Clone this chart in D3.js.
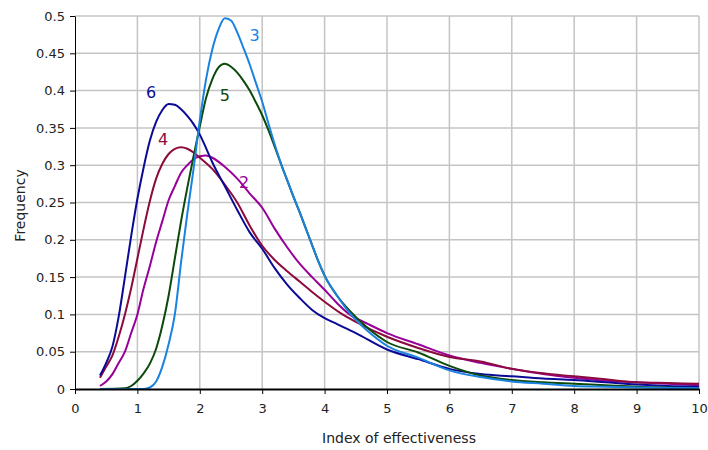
<html>
<head>
<title>Index of effectiveness</title>
<style>
body {
  margin: 0;
  background: #fff;
}
svg text {
  font-family: 'DejaVu Sans', sans-serif;
  fill: #222;
}
.grid line {
  stroke: #c4c4c4;
  stroke-width: 1.5;
}
.axis path, .axis line {
  stroke: #000;
}
.curve {
  fill: none;
  stroke-width: 2;
}
</style>
</head>
<body>
<svg id='plot' width='708' height='450'></svg>

<script src='https://cdn.jsdelivr.net/npm/d3@7'></script>
<script>
// Tick values of both axes.
const xTicks = [0, 1, 2, 3, 4, 5, 6, 7, 8, 9, 10];
const yTicks = [0, 0.05, 0.1, 0.15, 0.2, 0.25, 0.3, 0.35, 0.4, 0.45, 0.5];

// Frequency curves, [index, frequency].
const curve2 = [[0.4, 0.004], [0.5, 0.01], [0.6, 0.02], [0.7, 0.035], [0.8, 0.05],
  [0.9, 0.075], [1.0, 0.1], [1.1, 0.135], [1.2, 0.165], [1.3, 0.197], [1.4, 0.225],
  [1.5, 0.253], [1.6, 0.272], [1.7, 0.29], [1.8, 0.3], [1.9, 0.308], [2.0, 0.312],
  [2.1, 0.313], [2.2, 0.31], [2.4, 0.298], [2.6, 0.282], [2.8, 0.262], [3.0, 0.243],
  [3.2, 0.215], [3.4, 0.19], [3.6, 0.168], [3.8, 0.15], [4.0, 0.133], [4.2, 0.115],
  [4.4, 0.1], [4.7, 0.087], [5.0, 0.075], [5.5, 0.06], [6.0, 0.045], [6.5, 0.035],
  [7.0, 0.027], [7.5, 0.02], [8.0, 0.015], [8.5, 0.011], [9.0, 0.009], [9.5, 0.007],
  [10, 0.005]];

const curve3 = [[0.4, 0], [1.1, 0], [1.2, 0.002], [1.3, 0.01], [1.4, 0.03], [1.5, 0.06],
  [1.6, 0.1], [1.7, 0.17], [1.8, 0.235], [1.9, 0.295], [2.0, 0.36], [2.1, 0.415],
  [2.2, 0.455], [2.3, 0.482], [2.4, 0.497], [2.5, 0.494], [2.6, 0.478], [2.7, 0.457],
  [2.8, 0.435], [2.9, 0.41], [3.0, 0.385], [3.1, 0.356], [3.2, 0.328], [3.3, 0.302],
  [3.4, 0.28], [3.5, 0.258], [3.6, 0.237], [3.7, 0.215], [3.8, 0.193], [3.9, 0.171],
  [4.0, 0.152], [4.2, 0.125], [4.4, 0.102], [4.7, 0.077], [5.0, 0.058], [5.5, 0.042],
  [6.0, 0.025], [6.5, 0.016], [7.0, 0.01], [7.5, 0.007], [8.0, 0.004], [8.5, 0.003],
  [9.0, 0.002], [10, 0.001]];

const curve4 = [[0.4, 0.015], [0.5, 0.03], [0.6, 0.045], [0.7, 0.07], [0.8, 0.1],
  [0.9, 0.135], [1.0, 0.175], [1.1, 0.215], [1.2, 0.252], [1.3, 0.282], [1.4, 0.302],
  [1.5, 0.315], [1.6, 0.322], [1.7, 0.324], [1.8, 0.322], [1.9, 0.317], [2.0, 0.31],
  [2.2, 0.295], [2.4, 0.274], [2.6, 0.25], [2.8, 0.219], [3.0, 0.192], [3.2, 0.173],
  [3.4, 0.158], [3.6, 0.144], [3.8, 0.13], [4.0, 0.117], [4.25, 0.102], [4.5, 0.09],
  [5.0, 0.07], [5.5, 0.055], [6.0, 0.043], [6.5, 0.037], [7.0, 0.027], [7.5, 0.021],
  [8.0, 0.017], [8.5, 0.013], [9.0, 0.009], [9.5, 0.008], [10, 0.007]];

const curve5 = [[0.4, 0], [0.8, 0.001], [0.9, 0.004], [1.0, 0.011], [1.1, 0.021],
  [1.2, 0.034], [1.3, 0.054], [1.4, 0.085], [1.5, 0.125], [1.6, 0.175], [1.7, 0.225],
  [1.8, 0.27], [1.9, 0.312], [2.0, 0.352], [2.1, 0.39], [2.2, 0.415], [2.3, 0.431],
  [2.4, 0.436], [2.5, 0.432], [2.6, 0.424], [2.7, 0.413], [2.8, 0.4], [2.9, 0.384],
  [3.0, 0.367], [3.1, 0.347], [3.2, 0.325], [3.3, 0.302], [3.4, 0.28], [3.5, 0.258],
  [3.6, 0.237], [3.7, 0.215], [3.8, 0.193], [3.9, 0.171], [4.0, 0.152], [4.2, 0.125],
  [4.4, 0.105], [4.7, 0.081], [5.0, 0.063], [5.5, 0.049], [6.0, 0.031], [6.5, 0.018],
  [7.0, 0.012], [7.5, 0.009], [8.0, 0.007], [8.5, 0.005], [9.0, 0.003], [9.5, 0.002],
  [10, 0.001]];

const curve6 = [[0.4, 0.018], [0.5, 0.035], [0.6, 0.057], [0.7, 0.097], [0.8, 0.15],
  [0.9, 0.205], [1.0, 0.255], [1.1, 0.297], [1.2, 0.333], [1.3, 0.358], [1.4, 0.374],
  [1.5, 0.382], [1.6, 0.381], [1.7, 0.375], [1.8, 0.366], [1.9, 0.355], [2.0, 0.341],
  [2.1, 0.323], [2.2, 0.304], [2.4, 0.272], [2.6, 0.24], [2.8, 0.21], [3.0, 0.188],
  [3.2, 0.162], [3.4, 0.14], [3.6, 0.122], [3.8, 0.106], [4.0, 0.095], [4.2, 0.087],
  [4.5, 0.075], [5.0, 0.053], [5.5, 0.04], [6.0, 0.027], [6.5, 0.02], [7.0, 0.017],
  [7.5, 0.014], [8.0, 0.012], [8.5, 0.009], [9.0, 0.006], [9.5, 0.004], [10, 0.003]];

// Series names, colours and where their number sits (data units).
const seriesNames = ['2', '4', '6', '5', '3'];
const seriesData = [curve2, curve4, curve6, curve5, curve3];
const seriesColors = ['#990099', '#8c0a3c', '#0a0a96', '#0b4a0b', '#1a82e0'];
const labelPos = [[2.71, 0.277], [1.41, 0.334], [1.22, 0.397], [2.40, 0.394], [2.88, 0.4745]];

const width = 708, height = 450;
const margin = {top: 16, right: 9, bottom: 61, left: 75};

const svg = d3.select('#plot');

const x = d3.scaleLinear().domain([0, 10]).range([margin.left, width - margin.right]);
const y = d3.scaleLinear().domain([0, 0.5]).range([height - margin.bottom, margin.top]);

// Gridlines.
const grid = svg.append('g').attr('class', 'grid');
grid.selectAll('.gx').data(xTicks.slice(1)).enter().append('line')
  .attr('x1', d => x(d)).attr('x2', d => x(d))
  .attr('y1', y(0)).attr('y2', y(0.5));
grid.selectAll('.gy').data(yTicks.slice(1)).enter().append('line')
  .attr('x1', x(0)).attr('x2', x(10))
  .attr('y1', d => y(d)).attr('y2', d => y(d));

// Curves.
const line = d3.line()
  .x(d => x(d[0]))
  .y(d => y(d[1]))
  .curve(d3.curveMonotoneX);

svg.selectAll('.curve').data(seriesData).enter().append('path')
  .attr('class', 'curve')
  .attr('stroke', (d, i) => seriesColors[i])
  .attr('d', line);

// Axes.
const xAxis = svg.append('g').attr('class', 'axis')
  .attr('transform', `translate(0,${y(0)})`)
  .call(d3.axisBottom(x).tickValues(xTicks).tickSize(5).tickSizeOuter(0).tickPadding(10));
xAxis.select('.domain').attr('stroke-width', 2);

const yAxis = svg.append('g').attr('class', 'axis')
  .attr('transform', `translate(${x(0)},0)`)
  .call(d3.axisLeft(y).tickValues(yTicks).tickFormat(d3.format('')).tickSize(5).tickSizeOuter(0).tickPadding(5));

svg.selectAll('.axis text').style('font-size', '13px').attr('fill', '#222');

// Series numbers.
svg.selectAll('.label').data(seriesNames).enter().append('text')
  .attr('class', 'label')
  .attr('x', (d, i) => x(labelPos[i][0]))
  .attr('y', (d, i) => y(labelPos[i][1]))
  .attr('text-anchor', 'middle')
  .attr('dominant-baseline', 'central')
  .style('font-size', '16px')
  .style('fill', (d, i) => seriesColors[i])
  .text(d => d);

// Axis titles.
svg.append('text')
  .attr('x', (x(0) + x(10)) / 2 + 12)
  .attr('y', 443)
  .attr('text-anchor', 'middle')
  .style('font-size', '14px')
  .text('Index of effectiveness');

svg.append('text')
  .attr('transform', `translate(25,${(y(0) + y(0.5)) / 2 + 3}) rotate(-90)`)
  .attr('text-anchor', 'middle')
  .style('font-size', '14px')
  .text('Frequency');
</script>
</body>
</html>
